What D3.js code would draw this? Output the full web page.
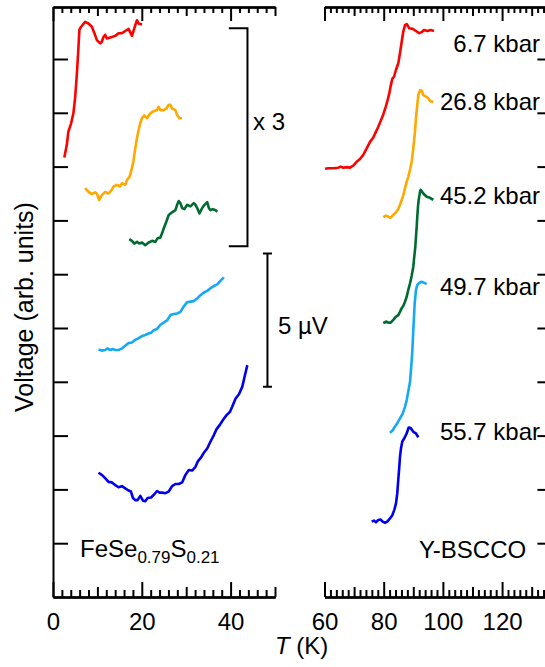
<!DOCTYPE html>
<html>
<head>
<meta charset="utf-8">
<script src="https://cdn.jsdelivr.net/npm/d3@7"></script>
<style>
  body { margin: 0; background: #fff; }
  svg { display: block; font-family: "Liberation Sans", Arial, sans-serif; }
</style>
</head>
<body>
<script>
// FeSe0.79S0.21 traces, [T (K), voltage (arb.)]
var fesRed = [[2.55,8.17],[3.10,8.40],[3.46,8.65],[4.07,8.80],[4.59,8.99],[4.97,9.27],[5.36,9.70],[5.72,10.20],[5.94,10.54],[6.33,10.60],[7.23,10.69],[7.98,10.66],[8.75,10.60],[9.33,10.48],[9.88,10.35],[10.62,10.29],[11.0,10.32],[11.37,10.41],[11.75,10.45],[12.14,10.38],[13.27,10.41],[14.01,10.43],[14.76,10.48],[15.53,10.48],[16.27,10.52],[17.02,10.56],[17.79,10.43],[18.53,10.63],[18.92,10.72],[19.28,10.66],[20.05,10.64]];
var fesOrange = [[7.23,7.60],[7.98,7.53],[8.75,7.49],[9.49,7.52],[9.88,7.50],[10.40,7.38],[11.0,7.47],[11.75,7.53],[12.50,7.50],[13.27,7.57],[13.63,7.63],[14.40,7.66],[15.14,7.63],[15.53,7.69],[16.27,7.66],[16.66,7.75],[17.24,7.81],[17.79,7.97],[18.15,8.12],[18.53,8.34],[18.92,8.53],[19.28,8.68],[19.66,8.81],[20.05,8.90],[20.56,8.95],[21.17,8.90],[21.92,8.99],[22.67,9.03],[23.43,9.05],[23.80,9.11],[24.18,9.05],[24.93,9.05],[25.54,9.08],[26.06,9.15],[26.44,9.15],[26.82,9.08],[27.57,9.05],[27.95,8.96],[28.47,8.90],[29.08,8.90]];
var fesGreen = [[17.18,6.65],[17.79,6.62],[18.31,6.57],[18.92,6.60],[19.50,6.57],[20.05,6.59],[20.79,6.54],[21.54,6.59],[22.31,6.62],[23.05,6.60],[23.57,6.67],[24.18,6.68],[24.56,6.76],[24.93,6.85],[25.54,6.98],[26.06,7.10],[26.82,7.15],[27.57,7.19],[27.95,7.29],[28.32,7.36],[28.70,7.32],[29.08,7.23],[29.60,7.21],[30.21,7.29],[30.96,7.26],[31.71,7.32],[32.09,7.29],[32.47,7.23],[32.99,7.13],[33.60,7.23],[34.12,7.29],[34.73,7.34],[35.10,7.23],[35.48,7.19],[36.0,7.21],[36.61,7.19],[36.99,7.16]];
var fesLightBlue = [[10.24,4.60],[11.0,4.58],[11.75,4.59],[12.27,4.62],[12.88,4.59],[13.49,4.61],[14.01,4.59],[14.76,4.59],[15.53,4.62],[16.27,4.67],[17.02,4.72],[17.79,4.73],[18.53,4.78],[19.28,4.81],[20.05,4.85],[20.79,4.87],[21.54,4.90],[22.08,4.91],[22.67,4.96],[23.43,4.98],[24.18,5.06],[24.93,5.10],[25.69,5.14],[26.44,5.24],[27.19,5.26],[27.95,5.27],[28.70,5.30],[29.45,5.40],[30.21,5.48],[30.96,5.49],[31.71,5.50],[32.47,5.55],[33.22,5.61],[33.97,5.66],[34.73,5.69],[35.48,5.74],[36.23,5.78],[36.99,5.81],[37.74,5.88],[38.49,5.94]];
var fesBlue = [[10.24,2.31],[11.0,2.27],[11.75,2.21],[12.50,2.14],[13.27,2.13],[14.01,2.08],[14.76,2.04],[15.53,2.06],[16.27,2.02],[17.02,1.98],[17.56,1.96],[18.01,1.84],[18.53,1.80],[19.05,1.80],[19.66,1.88],[20.27,1.79],[20.79,1.78],[21.31,1.84],[22.08,1.85],[22.82,1.91],[23.43,1.97],[24.02,1.94],[24.56,1.94],[25.31,1.93],[26.06,1.96],[26.82,2.06],[27.57,2.10],[28.32,2.10],[29.08,2.13],[29.83,2.27],[30.58,2.36],[31.34,2.35],[32.09,2.42],[32.61,2.52],[33.22,2.58],[33.97,2.68],[34.73,2.76],[35.48,2.89],[36.23,3.01],[36.84,3.12],[37.58,3.20],[38.35,3.30],[39.10,3.38],[39.84,3.44],[40.38,3.54],[41.13,3.69],[41.88,3.77],[42.64,3.91],[43.16,4.10],[43.77,4.31]];

// Y-BSCCO traces
var ybRed = [[60.17,7.96],[61.29,7.97],[62.97,7.97],[64.66,7.98],[65.47,8.00],[66.35,7.98],[67.50,7.99],[68.61,7.98],[69.73,8.02],[70.88,8.09],[71.99,8.14],[73.11,8.22],[74.26,8.34],[75.37,8.46],[76.49,8.54],[77.40,8.65],[78.18,8.74],[78.99,8.85],[79.86,8.97],[80.68,9.11],[81.35,9.24],[81.89,9.36],[82.36,9.50],[82.91,9.63],[83.48,9.67],[84.16,9.80],[84.93,9.92],[85.51,10.11],[86.08,10.32],[86.62,10.51],[87.20,10.63],[87.77,10.65],[88.65,10.57],[89.80,10.56],[90.91,10.52],[92.03,10.48],[92.84,10.50],[93.61,10.54],[94.73,10.52],[95.88,10.54],[96.99,10.52]];
var ybOrange = [[79.86,7.06],[80.78,7.09],[81.55,7.07],[82.36,7.05],[83.24,7.10],[84.16,7.15],[84.93,7.21],[85.51,7.29],[86.08,7.38],[86.62,7.47],[87.20,7.60],[87.77,7.72],[88.31,7.81],[88.89,7.94],[89.46,8.09],[90.0,8.34],[90.57,8.65],[90.91,8.90],[91.35,9.15],[91.69,9.33],[92.26,9.42],[92.84,9.41],[93.38,9.33],[94.29,9.30],[95.07,9.27],[95.64,9.22],[96.76,9.20]];
var ybGreen = [[79.86,5.09],[80.78,5.12],[81.55,5.10],[82.36,5.10],[83.24,5.15],[84.16,5.21],[84.93,5.24],[85.51,5.30],[86.08,5.37],[86.62,5.41],[87.20,5.49],[87.77,5.58],[88.31,5.71],[88.89,5.83],[89.46,5.97],[90.0,6.14],[90.34,6.33],[90.68,6.51],[90.91,6.70],[91.15,6.88],[91.35,7.07],[91.59,7.26],[91.82,7.38],[92.26,7.53],[92.5,7.57],[93.38,7.50],[94.53,7.44],[95.64,7.42],[96.76,7.38]];
var ybLightBlue = [[82.13,3.05],[83.04,3.10],[83.82,3.17],[84.59,3.23],[85.51,3.32],[86.42,3.41],[87.20,3.54],[87.77,3.66],[88.31,3.82],[88.89,4.00],[89.22,4.22],[89.56,4.47],[89.80,4.72],[90.0,4.96],[90.24,5.21],[90.47,5.46],[90.68,5.58],[90.91,5.71],[91.35,5.80],[92.03,5.84],[92.84,5.86],[93.61,5.84],[94.53,5.82]];
var ybBlue = [[75.95,1.40],[76.72,1.42],[77.40,1.39],[78.18,1.43],[78.99,1.44],[79.66,1.40],[80.44,1.38],[81.22,1.40],[82.13,1.46],[82.91,1.52],[83.58,1.62],[84.16,1.74],[84.59,1.93],[84.93,2.18],[85.27,2.42],[85.51,2.61],[85.84,2.76],[86.28,2.89],[86.96,2.95],[87.77,3.04],[88.45,3.15],[89.12,3.14],[90.0,3.07],[90.91,3.04],[91.69,2.97]];

var pressures = ["6.7 kbar", "26.8 kbar", "45.2 kbar", "49.7 kbar", "55.7 kbar"];
var leftTickLabels = [0, 20, 40];
var rightTickLabels = [60, 80, 100, 120];
var vTicks = [1, 2, 3, 4, 5, 6, 7, 8, 9, 10];

var colors = ["#ff0000", "#ffa800", "#006b30", "#14a9f5", "#0000f0"];

var w = 545, h = 667,
    yTop = 7, yBot = 597;

var svg = d3.select("body").append("svg")
    .attr("width", w)
    .attr("height", h);

var y = d3.scaleLinear().domain([0, (yBot - yTop) / 53.8]).range([yBot, yTop]);
var xL = d3.scaleLinear().domain([0, 50]).range([53, 275]);
var xR = d3.scaleLinear().domain([60, 137]).range([324.5, 552.4]);

function tickSets(lo, hi) {
    var all = d3.range(lo, hi + 0.001, 2);
    return {
        major: all.filter(function(t) { return t % 20 === 0; }),
        mid: all.filter(function(t) { return t % 10 === 0 && t % 20 !== 0; }),
        minor: all.filter(function(t) { return t % 10 !== 0; })
    };
}

function styleAxis(g) {
    g.selectAll("path, line").attr("stroke", "#000").attr("stroke-width", 2);
    g.selectAll("text").attr("font-family", "Liberation Sans, Arial, sans-serif")
        .attr("font-size", 24).attr("fill", "#000");
}

function xAxes(scale, lo, hi, labels) {
    var s = tickSets(lo, hi);
    [[s.minor, 7], [s.mid, 10], [s.major, 15]].forEach(function(p) {
        svg.append("g")
            .attr("transform", "translate(0," + yBot + ")")
            .call(d3.axisBottom(scale).tickValues(p[0]).tickSizeInner(-p[1]).tickSizeOuter(0).tickFormat(""))
            .call(styleAxis);
        svg.append("g")
            .attr("transform", "translate(0," + yTop + ")")
            .call(d3.axisTop(scale).tickValues(p[0]).tickSizeInner(-(p[1] - 1)).tickSizeOuter(0).tickFormat(""))
            .call(styleAxis);
    });
    svg.append("g")
        .attr("transform", "translate(0," + yBot + ")")
        .call(d3.axisBottom(scale).tickValues(labels).tickSize(0).tickPadding(16).tickFormat(d3.format("d")))
        .call(styleAxis)
        .call(function(g) { g.select(".domain").remove(); });
}

xAxes(xL, 0, 50, leftTickLabels);
xAxes(xR, 60, 136, rightTickLabels);

svg.append("g")
    .attr("transform", "translate(" + xL(0) + ",0)")
    .call(d3.axisLeft(y).tickValues(vTicks).tickSizeInner(-15).tickSizeOuter(0).tickFormat(""))
    .call(styleAxis);

svg.append("g")
    .attr("transform", "translate(" + xR(137) + ",0)")
    .call(d3.axisRight(y).tickValues(vTicks).tickSizeInner(-15).tickSizeOuter(0).tickFormat(""))
    .call(styleAxis);

// curves
var lineL = d3.line().x(function(d) { return xL(d[0]); }).y(function(d) { return y(d[1]); });
var lineR = d3.line().x(function(d) { return xR(d[0]); }).y(function(d) { return y(d[1]); });

[fesRed, fesOrange, fesGreen, fesLightBlue, fesBlue].forEach(function(s, i) {
    svg.append("path").datum(s)
        .attr("d", lineL)
        .attr("fill", "none")
        .attr("stroke", colors[i])
        .attr("stroke-width", 2.6)
        .attr("stroke-linejoin", "round");
});
[ybRed, ybOrange, ybGreen, ybLightBlue, ybBlue].forEach(function(s, i) {
    svg.append("path").datum(s)
        .attr("d", lineR)
        .attr("fill", "none")
        .attr("stroke", colors[i])
        .attr("stroke-width", 2.6)
        .attr("stroke-linejoin", "round");
});

// x3 bracket and 5 uV scale bar
var bx = xL(43.8), bx0 = xL(39.6);
svg.append("path")
    .attr("d", "M" + bx0 + "," + y(10.57) + "H" + bx + "V" + y(6.52) + "H" + bx0)
    .attr("fill", "none").attr("stroke", "#000").attr("stroke-width", 2);

var sx = xL(48.3);
svg.append("path")
    .attr("d", "M" + (sx - 4.5) + "," + y(6.385) + "H" + (sx + 4.5) +
               "M" + sx + "," + y(6.385) + "V" + y(3.91) +
               "M" + (sx - 4.5) + "," + y(3.91) + "H" + (sx + 4.5))
    .attr("fill", "none").attr("stroke", "#000").attr("stroke-width", 2);

function label(x, yy, txt, anchor) {
    return svg.append("text")
        .attr("x", x).attr("y", yy)
        .attr("font-size", 24)
        .attr("text-anchor", anchor || "start")
        .attr("fill", "#000")
        .text(txt);
}

label(253, 130, "x 3");
label(278, 334, "5 \u00b5V");

var pressureY = [51.5, 110, 204, 295, 440];
pressures.forEach(function(p, i) {
    label(540, pressureY[i], p, "end");
});

label(419, 558, "Y-BSCCO");

var fes = svg.append("text").attr("x", 80).attr("y", 557).attr("font-size", 24).attr("fill", "#000");
fes.append("tspan").text("FeSe");
fes.append("tspan").attr("font-size", 17).attr("dy", 6).text("0.79");
fes.append("tspan").attr("dy", -6).text("S");
fes.append("tspan").attr("font-size", 17).attr("dy", 6).text("0.21");

var tl = svg.append("text").attr("x", 275).attr("y", 654).attr("font-size", 24).attr("fill", "#000");
tl.append("tspan").attr("font-style", "italic").text("T");
tl.append("tspan").text(" (K)");

svg.append("text")
    .attr("transform", "translate(33,307) rotate(-90)")
    .attr("text-anchor", "middle")
    .attr("font-size", 25)
    .attr("fill", "#000")
    .text("Voltage (arb. units)");
</script>
</body>
</html>
